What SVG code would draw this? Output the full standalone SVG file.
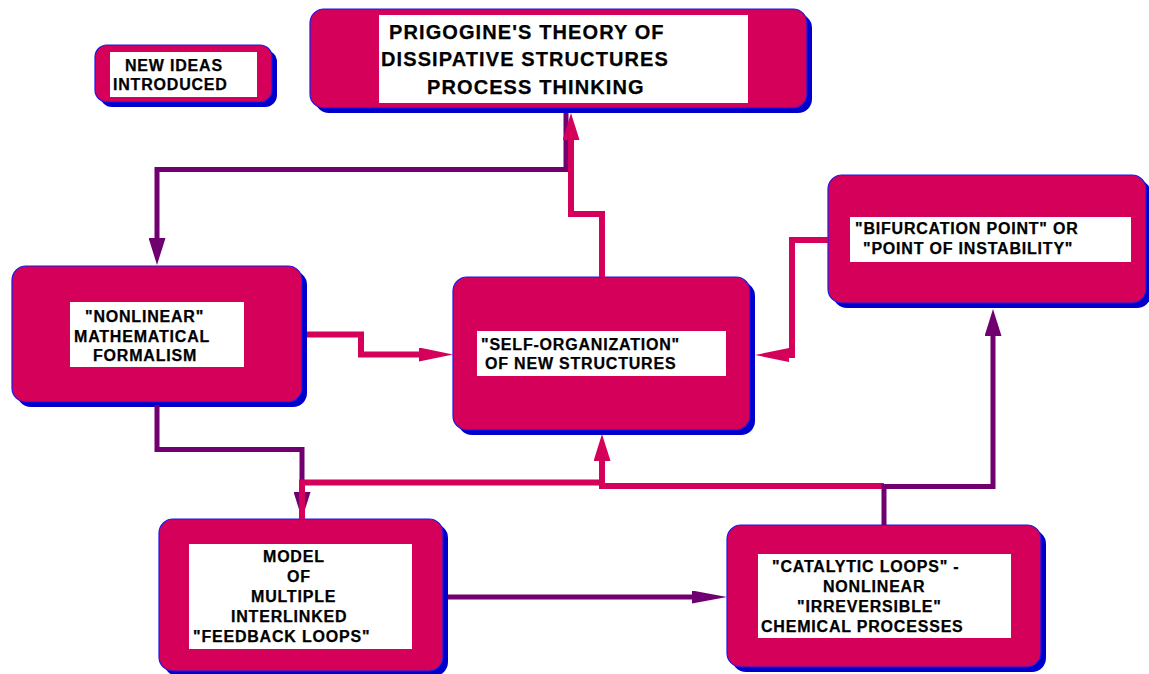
<svg xmlns="http://www.w3.org/2000/svg" width="1149" height="674" viewBox="0 0 1149 674">
  <style>
    .shadow { fill: #0000CC; }
    .card { fill: #D4005A; stroke: #1A1AE6; stroke-width: 1.2; }
    .panel { fill: #FFFFFF; }
    text { font-family: "Liberation Sans", Arial, sans-serif; font-weight: bold; fill: #000000; stroke: #000000; stroke-width: 0.25; }
    .t16 { font-size: 16px; letter-spacing: 0.8px; }
    .t20 { font-size: 20px; letter-spacing: 1.1px; }
    .pink { fill: none; stroke: #D4005A; stroke-width: 6; stroke-linejoin: miter; stroke-linecap: butt; }
    .purple { fill: none; stroke: #700070; stroke-width: 5; stroke-linejoin: miter; stroke-linecap: butt; }
  </style>
  <defs>
    <marker id="vPink" markerUnits="userSpaceOnUse" markerWidth="27" markerHeight="17" refX="12" refY="8.5" orient="auto">
      <path d="M0,0 L27,8.5 L0,17 Z" fill="#D4005A"/>
    </marker>
    <marker id="hPink" markerUnits="userSpaceOnUse" markerWidth="34" markerHeight="14" refX="14" refY="7" orient="auto">
      <path d="M0,0 L34,7 L0,14 Z" fill="#D4005A"/>
    </marker>
    <marker id="vPurple" markerUnits="userSpaceOnUse" markerWidth="27" markerHeight="17" refX="12" refY="8.5" orient="auto">
      <path d="M0,0 L27,8.5 L0,17 Z" fill="#700070"/>
    </marker>
    <marker id="hPurple" markerUnits="userSpaceOnUse" markerWidth="35" markerHeight="13" refX="15" refY="6.5" orient="auto">
      <path d="M0,0 L35,6.5 L0,13 Z" fill="#700070"/>
    </marker>
  </defs>

  <!-- Title node -->
  <g id="prigogine">
    <rect class="shadow" x="315" y="14" width="497" height="99" rx="14"/>
    <rect class="card" x="310" y="9" width="497" height="99" rx="14"/>
    <rect class="panel" x="379" y="15" width="369" height="88"/>
    <text class="t20" x="389" y="39">PRIGOGINE'S THEORY OF</text>
    <text class="t20" x="381" y="66">DISSIPATIVE STRUCTURES</text>
    <text class="t20" x="427" y="94">PROCESS THINKING</text>
  </g>

  <!-- Legend node -->
  <g id="new-ideas">
    <rect class="shadow" x="100" y="50" width="177" height="57" rx="12"/>
    <rect class="card" x="95" y="45" width="177" height="57" rx="12"/>
    <rect class="panel" x="110" y="52" width="147" height="45"/>
    <text class="t16" x="125" y="71">NEW IDEAS</text>
    <text class="t16" x="113" y="90">INTRODUCED</text>
  </g>

  <g id="nonlinear">
    <rect class="shadow" x="17" y="271" width="290" height="136" rx="14"/>
    <rect class="card" x="12" y="266" width="290" height="136" rx="14"/>
    <rect class="panel" x="70" y="302" width="174" height="65"/>
    <text class="t16" x="85" y="322">"NONLINEAR"</text>
    <text class="t16" x="74" y="342">MATHEMATICAL</text>
    <text class="t16" x="93" y="361">FORMALISM</text>
  </g>

  <g id="self-organization">
    <rect class="shadow" x="458" y="282" width="297" height="153" rx="14"/>
    <rect class="card" x="453" y="277" width="297" height="153" rx="14"/>
    <rect class="panel" x="477" y="331" width="249" height="45"/>
    <text class="t16" x="481" y="350">"SELF-ORGANIZATION"</text>
    <text class="t16" x="485" y="369">OF NEW STRUCTURES</text>
  </g>

  <g id="bifurcation">
    <rect class="shadow" x="833" y="180" width="318" height="128" rx="14"/>
    <rect class="card" x="828" y="175" width="318" height="128" rx="14"/>
    <rect class="panel" x="850" y="217" width="281" height="45"/>
    <text class="t16" x="855" y="234">"BIFURCATION POINT" OR</text>
    <text class="t16" x="863" y="254">"POINT OF INSTABILITY"</text>
  </g>

  <g id="feedback-model">
    <rect class="shadow" x="164" y="524" width="284" height="152" rx="14"/>
    <rect class="card" x="159" y="519" width="284" height="152" rx="14"/>
    <rect class="panel" x="189" y="544" width="223" height="105"/>
    <text class="t16" x="263" y="562">MODEL</text>
    <text class="t16" x="287" y="582">OF</text>
    <text class="t16" x="251" y="602">MULTIPLE</text>
    <text class="t16" x="231" y="622">INTERLINKED</text>
    <text class="t16" x="193" y="642">"FEEDBACK LOOPS"</text>
  </g>

  <g id="catalytic-loops">
    <rect class="shadow" x="732" y="530" width="314" height="142" rx="14"/>
    <rect class="card" x="727" y="525" width="314" height="142" rx="14"/>
    <rect class="panel" x="758" y="554" width="253" height="84"/>
    <text class="t16" x="772" y="572">"CATALYTIC LOOPS" -</text>
    <text class="t16" x="823" y="592">NONLINEAR</text>
    <text class="t16" x="797" y="612">"IRREVERSIBLE"</text>
    <text class="t16" x="761" y="632">CHEMICAL PROCESSES</text>
  </g>

  <!-- Connectors -->
  <g id="connectors">
    <path class="purple" d="M157,405 V449.5 H302 V504" marker-end="url(#vPurple)"/>
    <path class="purple" d="M566,113 V169.5 H157 V250" marker-end="url(#vPurple)"/>
    <path class="pink" d="M602,277 V214 H571 V128" marker-end="url(#vPink)"/>
    <path class="pink" d="M307,334.5 H361 V354.5 H433" marker-end="url(#hPink)"/>
    <path class="pink" d="M828,240 H792 V355 H775" marker-end="url(#hPink)"/>
    <path class="pink" d="M884,486 H602 V449" marker-end="url(#vPink)"/>
    <path class="pink" d="M605,482.5 H302 V519"/>
    <path class="purple" d="M884,525 V486.5 H993 V324" marker-end="url(#vPurple)"/>
    <path class="purple" d="M448,597 H707" marker-end="url(#hPurple)"/>
  </g>
</svg>
